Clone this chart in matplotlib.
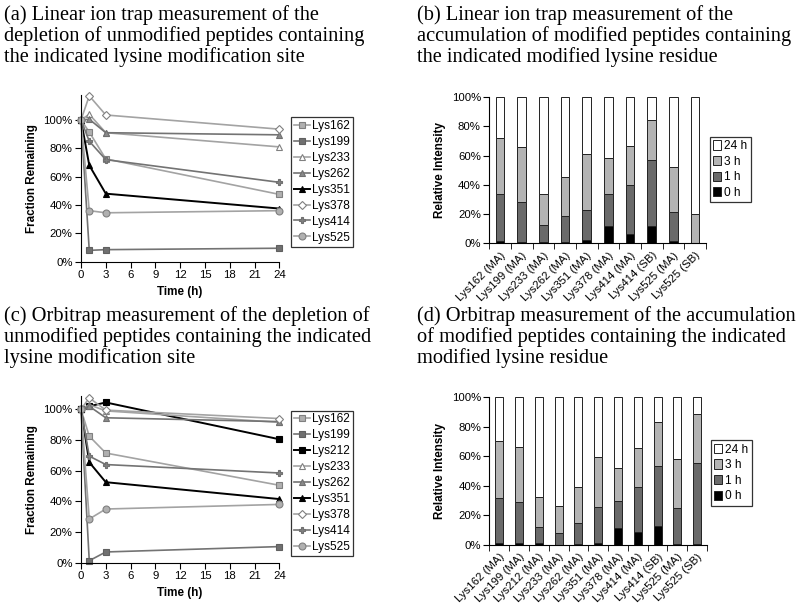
import numpy as np
import matplotlib
matplotlib.use("Agg")
import matplotlib.pyplot as plt
from matplotlib.ticker import PercentFormatter

W, H = 800, 616

# ---- data: fraction remaining (%) at each time point ----
hours = [0, 1, 3, 24]

lit_names = ["Lys162", "Lys199", "Lys233", "Lys262", "Lys351", "Lys378", "Lys414", "Lys525"]
lit_vals = [
    [100, 91.5, 72.5, 47.5],
    [100, 8, 8.5, 9.5],
    [100, 104, 91, 81],
    [100, 100.5, 91, 89.5],
    [100, 68, 48, 37.5],
    [100, 117, 103.5, 93.5],
    [100, 85, 72, 56],
    [100, 36, 34.5, 36],
]

orb_names = ["Lys162", "Lys199", "Lys212", "Lys233", "Lys262", "Lys351", "Lys378", "Lys414", "Lys525"]
orb_vals = [
    [100, 82.5, 71.5, 50.5],
    [100, 1.3, 7, 10.5],
    [100, 102, 104.5, 80.5],
    [100, 103, 99, 91.5],
    [100, 102, 94.5, 92],
    [100, 65.5, 52.5, 41.5],
    [100, 107.5, 99.5, 94],
    [100, 69.5, 64, 58.5],
    [100, 28.5, 35, 38],
]

# ---- data: relative intensity (%) stacked, per time point ----
lit_cats = ["Lys162 (MA)", "Lys199 (MA)", "Lys233 (MA)", "Lys262 (MA)", "Lys351 (MA)",
            "Lys378 (MA)", "Lys414 (MA)", "Lys414 (SB)", "Lys525 (MA)", "Lys525 (SB)"]
lit_0h = [1.5, 1, 0.7, 1, 2.5, 12, 6.5, 12, 1.5, 0]
lit_1h = [32, 27, 11.6, 18, 20.5, 21.5, 33.5, 44.8, 20, 0]
lit_3h = [38.5, 38, 21.1, 26.5, 38, 25, 26.5, 27.7, 30.5, 20.2]

orb_cats = ["Lys162 (MA)", "Lys199 (MA)", "Lys212 (MA)", "Lys233 (MA)", "Lys262 (MA)", "Lys351 (MA)",
            "Lys378 (MA)", "Lys414 (MA)", "Lys414 (SB)", "Lys525 (MA)", "Lys525 (SB)"]
orb_0h = [1.5, 1.5, 1.5, 0, 1, 1.5, 11.5, 8.5, 13, 0.5, 0.5]
orb_1h = [30.3, 27.5, 10.5, 8, 14, 24, 18.3, 30.8, 40.4, 24.3, 55]
orb_3h = [38.7, 37.4, 20.7, 18.6, 24.5, 34.3, 22.5, 26.2, 29.6, 33.2, 33.5]

# line styles: (line colour, marker, marker face, marker edge)
LG, DG, BK = "#a3a3a3", "#737373", "#000000"
styles = {
    "Lys162": (LG, "s", "#b0b0b0", "#808080"),
    "Lys199": (DG, "s", "#707070", "#606060"),
    "Lys212": (BK, "s", "#000000", "#000000"),
    "Lys233": (LG, "^", "#ffffff", "#808080"),
    "Lys262": (DG, "^", "#8a8a8a", "#707070"),
    "Lys351": (BK, "^", "#000000", "#000000"),
    "Lys378": (LG, "D", "#ffffff", "#808080"),
    "Lys414": (DG, "P", "#808080", "#707070"),
    "Lys525": (LG, "o", "#b0b0b0", "#808080"),
}
msize = {"s": 5, "^": 5, "D": 3.8, "P": 5, "o": 5}

plt.rcParams["font.family"] = ["Liberation Sans", "DejaVu Sans"]

fig = plt.figure(figsize=(W / 100, H / 100), dpi=100)


def px_axes(left, top, right, bottom):
    return fig.add_axes([left / W, 1 - bottom / H, (right - left) / W, (bottom - top) / H])


def title(x, y, txt):
    fig.text(x / W, 1 - y / H, txt, family=["Liberation Serif", "DejaVu Serif"],
             fontsize=14.7, va="top", ha="left", linespacing=1.07)


def line_panel(ax, names, vals, ytop, leg_box):
    for name, v in zip(names, vals):
        c, m, mf, me = styles[name]
        ax.plot(hours, v, color=c, lw=1.4 if c == BK else 1.2, marker=m, ms=msize[m],
                mfc=mf, mec=me, mew=0.8, clip_on=False, label=name)
    ax.set_xlim(0, 24)
    ax.set_ylim(0, ytop)
    ax.set_xticks(range(0, 25, 3))
    ax.set_yticks(range(0, 101, 20))
    ax.yaxis.set_major_formatter(PercentFormatter(decimals=0))
    for s in ("top", "right"):
        ax.spines[s].set_visible(False)
    ax.tick_params(direction="out", length=4, labelsize=8.2, pad=2)
    ax.set_xlabel("Time (h)", fontsize=8.4, fontweight="bold", labelpad=4)
    ax.set_ylabel("Fraction Remaining", fontsize=8.4, fontweight="bold", labelpad=4)
    leg = ax.legend(loc="upper left", bbox_to_anchor=leg_box, bbox_transform=fig.transFigure,
                    fontsize=8.6, handlelength=1.3, handletextpad=0.2, labelspacing=0.33,
                    borderpad=0.25, borderaxespad=0, frameon=True, fancybox=False)
    leg.get_frame().set_edgecolor("black")
    leg.get_frame().set_linewidth(0.9)


def bar_panel(ax, cats, v0, v1, v3, leg_box):
    x = np.arange(len(cats))
    v0, v1, v3 = np.array(v0), np.array(v1), np.array(v3)
    v24 = 100 - v0 - v1 - v3
    kw = dict(width=0.4, edgecolor="#222222", linewidth=0.7)
    b0 = ax.bar(x, v0, color="#000000", label="0 h", **kw)
    b1 = ax.bar(x, v1, bottom=v0, color="#6a6a6a", label="1 h", **kw)
    b3 = ax.bar(x, v3, bottom=v0 + v1, color="#b4b4b4", label="3 h", **kw)
    b24 = ax.bar(x, v24, bottom=v0 + v1 + v3, color="#ffffff", label="24 h", **kw)
    ax.set_xlim(-0.5, len(cats) - 0.5)
    ax.set_ylim(0, 100)
    ax.set_yticks(range(0, 101, 20))
    ax.yaxis.set_major_formatter(PercentFormatter(decimals=0))
    ax.set_xticks(x)
    ax.set_xticklabels(cats, rotation=45, ha="right", rotation_mode="anchor", fontsize=8.2)
    ax.set_xticks(np.arange(-0.5, len(cats)), minor=True)
    ax.tick_params(axis="x", which="major", length=0, pad=5)
    ax.tick_params(axis="x", which="minor", length=4, direction="out")
    ax.tick_params(axis="y", direction="out", length=4, labelsize=8.2, pad=2)
    for s in ("top", "right"):
        ax.spines[s].set_visible(False)
    ax.set_ylabel("Relative Intensity", fontsize=8.4, fontweight="bold", labelpad=4)
    leg = ax.legend([b24, b3, b1, b0], ["24 h", "3 h", "1 h", "0 h"], loc="upper left",
                    bbox_to_anchor=leg_box, bbox_transform=fig.transFigure,
                    fontsize=8.6, handlelength=0.7, handleheight=0.8, handletextpad=0.25,
                    labelspacing=0.3, borderpad=0.3, borderaxespad=0, fancybox=False)
    leg.get_frame().set_edgecolor("black")
    leg.get_frame().set_linewidth(0.9)


title(4, 5, "(a) Linear ion trap measurement of the\ndepletion of unmodified peptides containing\nthe indicated lysine modification site")
title(417, 5, "(b) Linear ion trap measurement of the\naccumulation of modified peptides containing\nthe indicated modified lysine residue")
title(4, 306, "(c) Orbitrap measurement of the depletion of\nunmodified peptides containing the indicated\nlysine modification site")
title(417, 306, "(d) Orbitrap measurement of the accumulation\nof modified peptides containing the indicated\nmodified lysine residue")

ax_a = px_axes(81, 95, 279.3, 261.7)
line_panel(ax_a, lit_names, lit_vals, 117.6, (291 / W, 1 - 117 / H))

ax_c = px_axes(81, 395.7, 279.3, 562.7)
line_panel(ax_c, orb_names, orb_vals, 108.9, (291 / W, 1 - 410.5 / H))

ax_b = px_axes(489.2, 97, 706, 243.3)
bar_panel(ax_b, lit_cats, lit_0h, lit_1h, lit_3h, (709.5 / W, 1 - 136.5 / H))

ax_d = px_axes(489.4, 397.3, 707, 545)
bar_panel(ax_d, orb_cats, orb_0h, orb_1h, orb_3h, (710.5 / W, 1 - 440 / H))

fig.savefig("out.png", dpi=100)
